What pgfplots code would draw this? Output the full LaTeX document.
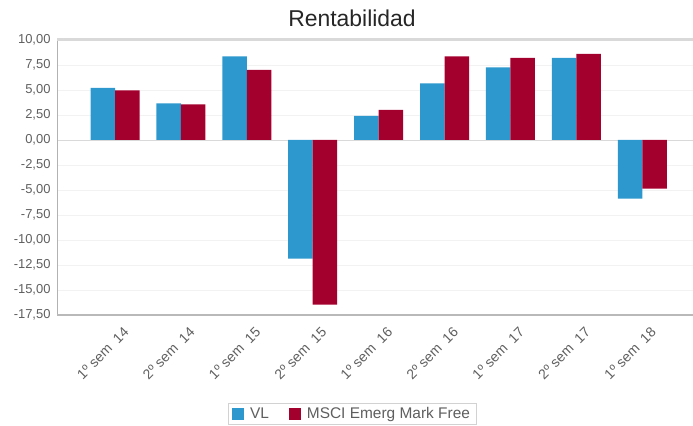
\documentclass[border=0pt]{standalone}
\usepackage{fontspec}
\setmainfont{Liberation Sans}
\usepackage{pgfplots}
\pgfplotsset{compat=1.18}
\definecolor{vlblue}{RGB}{44,152,206}
\definecolor{msred}{RGB}{163,0,46}
\definecolor{lab}{RGB}{95,95,95}
\begin{document}
\begin{tikzpicture}[x=1bp,y=1bp]
\path[use as bounding box] (0,0) rectangle (693,425);
\node[font=\fontsize{23}{26}\selectfont, text=black!85] at (352,407) {Rentabilidad};
\begin{axis}[
  at={(57bp,110bp)}, anchor=south west,
  scale only axis, width=636bp, height=275bp,
  ybar=0pt, bar width=24.5bp,
  xmin=-0.88, xmax=8.77,
  ymin=-17.5, ymax=10,
  ytick={-17.5,-15,-12.5,-10,-7.5,-5,-2.5,0,2.5,5,7.5,10},
  xtick={0,1,2,3,4,5,6,7,8},
  xticklabels={1º sem\ \ 14,2º sem\ \ 14,1º sem\ \ 15,2º sem\ \ 15,1º sem\ \ 16,2º sem\ \ 16,1º sem\ \ 17,2º sem\ \ 17,1º sem\ \ 18},
  x tick label style={rotate=45, anchor=north east, font=\fontsize{14}{16}\selectfont, text=lab, yshift=-10bp, xshift=1bp},
  y tick label style={font=\fontsize{13}{15}\selectfont, text=lab, xshift=-3bp},
  yticklabel style={/pgf/number format/fixed, /pgf/number format/fixed zerofill, /pgf/number format/precision=2, /pgf/number format/use comma},
  /pgf/number format/assume math mode=true,
  axis line style={draw=none},
  major tick length=0pt,
  ymajorgrids, grid style={draw=gray!10},
  legend style={at={(0.4638,-0.32)}, anchor=north, legend columns=2, draw=gray!35,
    font=\fontsize{15.5}{17}\selectfont, text=lab, inner xsep=4bp,
    /tikz/every even column/.append style={column sep=18bp}},
  legend image code/.code={\path[#1,draw=none] (0bp,-6bp) rectangle (12bp,6bp);},
  clip=false,
]
\draw[gray!30] (axis cs:-0.88,0) -- (axis cs:8.77,0);
\addplot[fill=vlblue, draw=none] coordinates {(0,5.2) (1,3.65) (2,8.35) (3,-11.85) (4,2.4) (5,5.65) (6,7.25) (7,8.2) (8,-5.85)};
\addplot[fill=msred, draw=none] coordinates {(0,4.95) (1,3.55) (2,7.0) (3,-16.45) (4,3.0) (5,8.35) (6,8.2) (7,8.6) (8,-4.85)};
\legend{\hspace{4bp}VL,\hspace{4bp}MSCI Emerg Mark Free}
\draw[gray!60, line width=1bp] (rel axis cs:0,0) -- (rel axis cs:0,1);
\draw[gray!30, line width=3bp] (rel axis cs:0,1) -- (rel axis cs:1,1);
\draw[gray!55, line width=2.5bp] (rel axis cs:0,0) -- (rel axis cs:1,0);
\end{axis}
\end{tikzpicture}
\end{document}
